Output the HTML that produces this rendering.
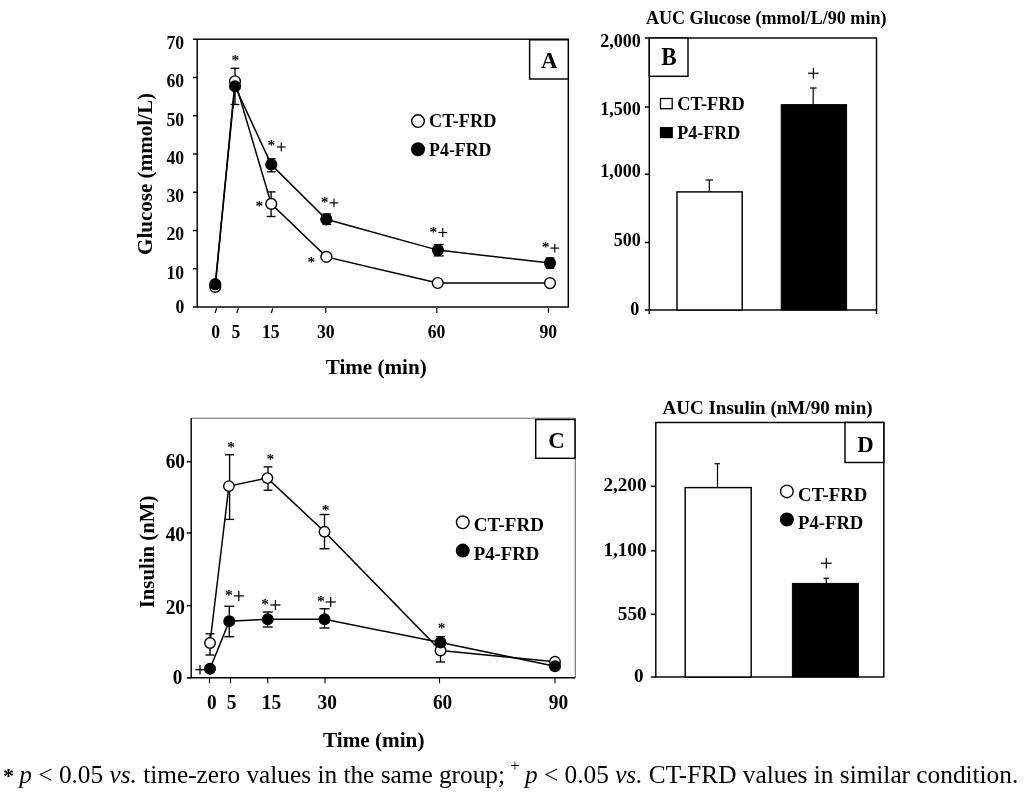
<!DOCTYPE html>
<html><head><meta charset="utf-8"><title>Figure</title>
<style>
html,body{margin:0;padding:0;background:#fff;}
body{width:1024px;height:795px;overflow:hidden;position:relative;font-family:"Liberation Serif", serif;}
svg{position:absolute;left:0;top:0;will-change:transform;}
svg text{font-family:"Liberation Serif", serif;fill:#000;}
#cap{will-change:transform;position:absolute;left:3px;top:756.8px;width:1021px;white-space:nowrap;font-family:"Liberation Serif", serif;font-size:25.3px;line-height:34px;color:#000;}
#cap b{font-weight:bold;font-size:22px;margin-right:-1px;}
#cap sup{font-size:16.5px;vertical-align:baseline;position:relative;top:-12px;margin:0 -1px 0 -1px;}
</style></head><body>
<svg width="1024" height="795" viewBox="0 0 1024 795">
<rect x="197.2" y="39.2" width="371.09999999999997" height="267.8" fill="none" stroke="#000" stroke-width="1.45"/>
<line x1="193.0" y1="307.0" x2="197.2" y2="307.0" stroke="#000" stroke-width="1.45"/>
<text x="184.2" y="312.74" font-size="18" font-weight="bold" text-anchor="end" textLength="8.82" lengthAdjust="spacingAndGlyphs">0</text>
<line x1="193.0" y1="268.75" x2="197.2" y2="268.75" stroke="#000" stroke-width="1.45"/>
<text x="184.2" y="278.69" font-size="18" font-weight="bold" text-anchor="end" textLength="17.64" lengthAdjust="spacingAndGlyphs">10</text>
<line x1="193.0" y1="230.5" x2="197.2" y2="230.5" stroke="#000" stroke-width="1.45"/>
<text x="184.2" y="240.44" font-size="18" font-weight="bold" text-anchor="end" textLength="17.64" lengthAdjust="spacingAndGlyphs">20</text>
<line x1="193.0" y1="192.25" x2="197.2" y2="192.25" stroke="#000" stroke-width="1.45"/>
<text x="184.2" y="202.19" font-size="18" font-weight="bold" text-anchor="end" textLength="17.64" lengthAdjust="spacingAndGlyphs">30</text>
<line x1="193.0" y1="154.0" x2="197.2" y2="154.0" stroke="#000" stroke-width="1.45"/>
<text x="184.2" y="163.94" font-size="18" font-weight="bold" text-anchor="end" textLength="17.64" lengthAdjust="spacingAndGlyphs">40</text>
<line x1="193.0" y1="115.75" x2="197.2" y2="115.75" stroke="#000" stroke-width="1.45"/>
<text x="184.2" y="125.69" font-size="18" font-weight="bold" text-anchor="end" textLength="17.64" lengthAdjust="spacingAndGlyphs">50</text>
<line x1="193.0" y1="77.5" x2="197.2" y2="77.5" stroke="#000" stroke-width="1.45"/>
<text x="184.2" y="87.44" font-size="18" font-weight="bold" text-anchor="end" textLength="17.64" lengthAdjust="spacingAndGlyphs">60</text>
<line x1="193.0" y1="39.25" x2="197.2" y2="39.25" stroke="#000" stroke-width="1.45"/>
<text x="184.2" y="48.99" font-size="18" font-weight="bold" text-anchor="end" textLength="17.64" lengthAdjust="spacingAndGlyphs">70</text>
<line x1="216.65" y1="308.2" x2="215.05" y2="313.0" stroke="#000" stroke-width="1.2"/>
<line x1="238.4" y1="308.2" x2="236.8" y2="313.0" stroke="#000" stroke-width="1.2"/>
<line x1="272.9" y1="308.2" x2="271.3" y2="313.0" stroke="#000" stroke-width="1.2"/>
<line x1="325.75" y1="308.0" x2="325.75" y2="313.0" stroke="#000" stroke-width="1.2"/>
<line x1="436.75" y1="308.0" x2="436.75" y2="313.0" stroke="#000" stroke-width="1.2"/>
<line x1="548.5" y1="308.0" x2="548.5" y2="313.0" stroke="#000" stroke-width="1.2"/>
<text x="215.75" y="337.94" font-size="18" font-weight="bold" text-anchor="middle" textLength="8.82" lengthAdjust="spacingAndGlyphs">0</text>
<text x="236" y="337.94" font-size="18" font-weight="bold" text-anchor="middle" textLength="8.82" lengthAdjust="spacingAndGlyphs">5</text>
<text x="270.75" y="337.94" font-size="18" font-weight="bold" text-anchor="middle" textLength="17.64" lengthAdjust="spacingAndGlyphs">15</text>
<text x="325.75" y="337.94" font-size="18" font-weight="bold" text-anchor="middle" textLength="17.64" lengthAdjust="spacingAndGlyphs">30</text>
<text x="436.5" y="337.94" font-size="18" font-weight="bold" text-anchor="middle" textLength="17.64" lengthAdjust="spacingAndGlyphs">60</text>
<text x="548.25" y="337.94" font-size="18" font-weight="bold" text-anchor="middle" textLength="17.64" lengthAdjust="spacingAndGlyphs">90</text>
<text x="376.2" y="373.83" font-size="20.7" font-weight="bold" text-anchor="middle" textLength="101" lengthAdjust="spacingAndGlyphs">Time (min)</text>
<text transform="translate(151.9,174) rotate(-90)" font-size="21" font-weight="bold" text-anchor="middle" textLength="162" lengthAdjust="spacingAndGlyphs">Glucose (mmol/L)</text>
<rect x="529.6" y="39.8" width="38.69999999999993" height="39.2" fill="#fff" stroke="#000" stroke-width="1.45"/>
<text x="549.25" y="68.42" font-size="24" font-weight="bold" text-anchor="middle" textLength="16.47" lengthAdjust="spacingAndGlyphs">A</text>
<circle cx="418" cy="121.1" r="6.3" fill="#fff" stroke="#000" stroke-width="1.4"/>
<circle cx="418" cy="149.3" r="6.3" fill="#000" stroke="#000" stroke-width="1.4"/>
<text x="429.1" y="127.27" font-size="18.7" font-weight="bold" text-anchor="start" textLength="67.3" lengthAdjust="spacingAndGlyphs">CT-FRD</text>
<text x="429.1" y="156.27" font-size="18.7" font-weight="bold" text-anchor="start" textLength="62.4" lengthAdjust="spacingAndGlyphs">P4-FRD</text>
<polyline points="215.25,286.9 235,81.25 271.25,203.9 326.4,256.9 437.75,283.0 550,283.1" fill="none" stroke="#000" stroke-width="1.5"/>
<polyline points="215.25,284.2 235,86.25 271.25,164.5 326.3,219.3 437.9,250.1 550,263.1" fill="none" stroke="#000" stroke-width="1.5"/>
<line x1="235" y1="68.25" x2="235" y2="104.5" stroke="#000" stroke-width="1.35"/>
<line x1="230.6" y1="68.25" x2="239.4" y2="68.25" stroke="#000" stroke-width="1.35"/>
<line x1="230.6" y1="104.5" x2="239.4" y2="104.5" stroke="#000" stroke-width="1.35"/>
<line x1="271.1" y1="191.9" x2="271.1" y2="216.5" stroke="#000" stroke-width="1.35"/>
<line x1="266.70000000000005" y1="191.9" x2="275.5" y2="191.9" stroke="#000" stroke-width="1.35"/>
<line x1="266.70000000000005" y1="216.5" x2="275.5" y2="216.5" stroke="#000" stroke-width="1.35"/>
<line x1="271.25" y1="158.75" x2="271.25" y2="171.75" stroke="#000" stroke-width="1.35"/>
<line x1="266.85" y1="158.75" x2="275.65" y2="158.75" stroke="#000" stroke-width="1.35"/>
<line x1="266.85" y1="171.75" x2="275.65" y2="171.75" stroke="#000" stroke-width="1.35"/>
<line x1="326.8" y1="214" x2="326.8" y2="224.4" stroke="#000" stroke-width="1.35"/>
<line x1="322.40000000000003" y1="214" x2="331.2" y2="214" stroke="#000" stroke-width="1.35"/>
<line x1="322.40000000000003" y1="224.4" x2="331.2" y2="224.4" stroke="#000" stroke-width="1.35"/>
<line x1="438.6" y1="244.6" x2="438.6" y2="255.9" stroke="#000" stroke-width="1.35"/>
<line x1="433.6" y1="244.6" x2="443.6" y2="244.6" stroke="#000" stroke-width="1.35"/>
<line x1="433.6" y1="255.9" x2="443.6" y2="255.9" stroke="#000" stroke-width="1.35"/>
<line x1="550" y1="258" x2="550" y2="268.25" stroke="#000" stroke-width="1.35"/>
<line x1="545.6" y1="258" x2="554.4" y2="258" stroke="#000" stroke-width="1.35"/>
<line x1="545.6" y1="268.25" x2="554.4" y2="268.25" stroke="#000" stroke-width="1.35"/>
<circle cx="215.25" cy="286.9" r="5.4" fill="#fff" stroke="#000" stroke-width="1.4"/>
<circle cx="235" cy="81.25" r="5.4" fill="#fff" stroke="#000" stroke-width="1.4"/>
<circle cx="271.25" cy="203.9" r="5.4" fill="#fff" stroke="#000" stroke-width="1.4"/>
<circle cx="326.4" cy="256.9" r="5.4" fill="#fff" stroke="#000" stroke-width="1.4"/>
<circle cx="437.75" cy="283.0" r="5.4" fill="#fff" stroke="#000" stroke-width="1.4"/>
<circle cx="550" cy="283.1" r="5.4" fill="#fff" stroke="#000" stroke-width="1.4"/>
<circle cx="215.25" cy="284.2" r="5.4" fill="#000" stroke="#000" stroke-width="1.4"/>
<circle cx="235" cy="86.25" r="5.4" fill="#000" stroke="#000" stroke-width="1.4"/>
<circle cx="271.25" cy="164.5" r="5.4" fill="#000" stroke="#000" stroke-width="1.4"/>
<circle cx="326.3" cy="219.3" r="5.4" fill="#000" stroke="#000" stroke-width="1.4"/>
<circle cx="437.9" cy="250.1" r="5.4" fill="#000" stroke="#000" stroke-width="1.4"/>
<circle cx="550" cy="263.1" r="5.4" fill="#000" stroke="#000" stroke-width="1.4"/>
<text x="235.4" y="64.81" font-size="15.5" font-weight="bold" text-anchor="middle">*</text>
<text x="271.25" y="150.26" font-size="15.5" font-weight="bold" text-anchor="middle">*</text>
<line x1="276.85" y1="147" x2="285.65" y2="147" stroke="#000" stroke-width="1.15"/>
<line x1="281.25" y1="142.6" x2="281.25" y2="151.4" stroke="#000" stroke-width="1.15"/>
<text x="324.6" y="207.11" font-size="15.5" font-weight="bold" text-anchor="middle">*</text>
<line x1="329.6" y1="202.9" x2="338.4" y2="202.9" stroke="#000" stroke-width="1.15"/>
<line x1="334" y1="198.5" x2="334" y2="207.3" stroke="#000" stroke-width="1.15"/>
<text x="433.3" y="236.91" font-size="15.5" font-weight="bold" text-anchor="middle">*</text>
<line x1="438.35" y1="232.5" x2="447.15" y2="232.5" stroke="#000" stroke-width="1.15"/>
<line x1="442.75" y1="228.1" x2="442.75" y2="236.9" stroke="#000" stroke-width="1.15"/>
<text x="545.6" y="251.71" font-size="15.5" font-weight="bold" text-anchor="middle">*</text>
<line x1="550.4" y1="248.1" x2="559.1999999999999" y2="248.1" stroke="#000" stroke-width="1.15"/>
<line x1="554.8" y1="243.7" x2="554.8" y2="252.5" stroke="#000" stroke-width="1.15"/>
<text x="259.4" y="211.26" font-size="15.5" font-weight="bold" text-anchor="middle">*</text>
<text x="311.25" y="266.51" font-size="15.5" font-weight="bold" text-anchor="middle">*</text>
<rect x="649.3" y="38.0" width="227.20000000000005" height="272.0" fill="none" stroke="#000" stroke-width="1.45"/>
<line x1="649.3" y1="310.0" x2="649.3" y2="314.0" stroke="#000" stroke-width="1.45"/>
<line x1="876.5" y1="310.0" x2="876.5" y2="314.0" stroke="#000" stroke-width="1.45"/>
<text x="766.2" y="24.24" font-size="18.3" font-weight="bold" text-anchor="middle" textLength="240.6" lengthAdjust="spacingAndGlyphs">AUC Glucose (mmol/L/90 min)</text>
<line x1="644.8" y1="38" x2="649.3" y2="38" stroke="#000" stroke-width="1.45"/>
<text x="640.9" y="47.02" font-size="19" font-weight="bold" text-anchor="end" textLength="40.61" lengthAdjust="spacingAndGlyphs">2,000</text>
<line x1="644.8" y1="107" x2="649.3" y2="107" stroke="#000" stroke-width="1.45"/>
<text x="640.9" y="114.52" font-size="19" font-weight="bold" text-anchor="end" textLength="40.61" lengthAdjust="spacingAndGlyphs">1,500</text>
<line x1="644.8" y1="174.25" x2="649.3" y2="174.25" stroke="#000" stroke-width="1.45"/>
<text x="640.9" y="177.02" font-size="19" font-weight="bold" text-anchor="end" textLength="40.61" lengthAdjust="spacingAndGlyphs">1,000</text>
<line x1="644.8" y1="242.5" x2="649.3" y2="242.5" stroke="#000" stroke-width="1.45"/>
<text x="640.9" y="245.77" font-size="19" font-weight="bold" text-anchor="end" textLength="27.07" lengthAdjust="spacingAndGlyphs">500</text>
<line x1="644.8" y1="310" x2="649.3" y2="310" stroke="#000" stroke-width="1.45"/>
<text x="639.2" y="315.02" font-size="19" font-weight="bold" text-anchor="end" textLength="9.03" lengthAdjust="spacingAndGlyphs">0</text>
<rect x="649.3" y="38" width="38.700000000000045" height="38.3" fill="#fff" stroke="#000" stroke-width="1.45"/>
<text x="669" y="65.42" font-size="24.3" font-weight="bold" text-anchor="middle" textLength="15.4" lengthAdjust="spacingAndGlyphs">B</text>
<rect x="660.5" y="98.5" width="11.700000000000045" height="10.200000000000003" fill="#fff" stroke="#000" stroke-width="1.3"/>
<rect x="660.5" y="127.7" width="11.700000000000045" height="9.799999999999997" fill="#000" stroke="#000" stroke-width="1.3"/>
<text x="677.3" y="109.92" font-size="18.7" font-weight="bold" text-anchor="start" textLength="67.4" lengthAdjust="spacingAndGlyphs">CT-FRD</text>
<text x="677.3" y="139.17" font-size="18.7" font-weight="bold" text-anchor="start" textLength="63" lengthAdjust="spacingAndGlyphs">P4-FRD</text>
<rect x="677" y="191.9" width="65.20000000000005" height="118.1" fill="#fff" stroke="#000" stroke-width="1.45"/>
<rect x="781.2" y="104.6" width="65.39999999999998" height="205.4" fill="#000" stroke="#000" stroke-width="1.0"/>
<line x1="709.3" y1="180" x2="709.3" y2="192" stroke="#000" stroke-width="1.2"/>
<line x1="705.5" y1="180" x2="713" y2="180" stroke="#000" stroke-width="1.2"/>
<line x1="813.2" y1="88" x2="813.2" y2="105" stroke="#000" stroke-width="1.2"/>
<line x1="810" y1="88" x2="816.7" y2="88" stroke="#000" stroke-width="1.2"/>
<line x1="808.0" y1="73.25" x2="818.8" y2="73.25" stroke="#000" stroke-width="1.2"/>
<line x1="813.4" y1="67.85" x2="813.4" y2="78.65" stroke="#000" stroke-width="1.2"/>
<line x1="191.2" y1="418.3" x2="575.3" y2="418.3" stroke="#6a6a6a" stroke-width="1.1"/>
<line x1="575.3" y1="418.3" x2="575.3" y2="677.7" stroke="#6a6a6a" stroke-width="1.1"/>
<line x1="191.2" y1="418.3" x2="191.2" y2="677.7" stroke="#000" stroke-width="1.45"/>
<line x1="187.2" y1="677.7" x2="575.3" y2="677.7" stroke="#000" stroke-width="1.45"/>
<line x1="186.7" y1="677.7" x2="191.2" y2="677.7" stroke="#000" stroke-width="1.45"/>
<text x="182.5" y="684.20" font-size="20.3" font-weight="bold" text-anchor="end" textLength="9.64" lengthAdjust="spacingAndGlyphs">0</text>
<line x1="186.7" y1="605.7" x2="191.2" y2="605.7" stroke="#000" stroke-width="1.45"/>
<text x="185.0" y="613.60" font-size="20.3" font-weight="bold" text-anchor="end" textLength="19.29" lengthAdjust="spacingAndGlyphs">20</text>
<line x1="186.7" y1="533" x2="191.2" y2="533" stroke="#000" stroke-width="1.45"/>
<text x="185.0" y="540.70" font-size="20.3" font-weight="bold" text-anchor="end" textLength="19.29" lengthAdjust="spacingAndGlyphs">40</text>
<line x1="186.7" y1="461.75" x2="191.2" y2="461.75" stroke="#000" stroke-width="1.45"/>
<text x="185.0" y="468.30" font-size="20.3" font-weight="bold" text-anchor="end" textLength="19.29" lengthAdjust="spacingAndGlyphs">60</text>
<line x1="209.5" y1="677.7" x2="209.5" y2="683.2" stroke="#000" stroke-width="1.1"/>
<line x1="230.5" y1="677.7" x2="230.5" y2="683.2" stroke="#000" stroke-width="1.1"/>
<line x1="267.75" y1="677.7" x2="267.75" y2="683.2" stroke="#000" stroke-width="1.1"/>
<line x1="325" y1="677.7" x2="325" y2="683.2" stroke="#000" stroke-width="1.1"/>
<line x1="439.5" y1="677.7" x2="439.5" y2="683.2" stroke="#000" stroke-width="1.1"/>
<line x1="555" y1="677.7" x2="555" y2="683.2" stroke="#000" stroke-width="1.1"/>
<text x="211.9" y="709.40" font-size="20.6" font-weight="bold" text-anchor="middle" textLength="9.68" lengthAdjust="spacingAndGlyphs">0</text>
<text x="231.6" y="709.40" font-size="20.6" font-weight="bold" text-anchor="middle" textLength="9.68" lengthAdjust="spacingAndGlyphs">5</text>
<text x="271.5" y="709.40" font-size="20.6" font-weight="bold" text-anchor="middle" textLength="19.36" lengthAdjust="spacingAndGlyphs">15</text>
<text x="327.2" y="709.40" font-size="20.6" font-weight="bold" text-anchor="middle" textLength="19.36" lengthAdjust="spacingAndGlyphs">30</text>
<text x="442.6" y="709.40" font-size="20.6" font-weight="bold" text-anchor="middle" textLength="19.36" lengthAdjust="spacingAndGlyphs">60</text>
<text x="558.4" y="709.40" font-size="20.6" font-weight="bold" text-anchor="middle" textLength="19.36" lengthAdjust="spacingAndGlyphs">90</text>
<text x="373.75" y="747.33" font-size="20.7" font-weight="bold" text-anchor="middle" textLength="101.4" lengthAdjust="spacingAndGlyphs">Time (min)</text>
<text transform="translate(153.9,552) rotate(-90)" font-size="20.3" font-weight="bold" text-anchor="middle" textLength="112.7" lengthAdjust="spacingAndGlyphs">Insulin (nM)</text>
<rect x="535.7" y="419.5" width="39.299999999999955" height="38.80000000000001" fill="#fff" stroke="#000" stroke-width="1.45"/>
<text x="556.5" y="447.72" font-size="24" font-weight="bold" text-anchor="middle" textLength="16.47" lengthAdjust="spacingAndGlyphs">C</text>
<circle cx="462.75" cy="522.3" r="6.3" fill="#fff" stroke="#000" stroke-width="1.4"/>
<circle cx="462.75" cy="550.6" r="6.3" fill="#000" stroke="#000" stroke-width="1.4"/>
<text x="473.8" y="530.97" font-size="19.6" font-weight="bold" text-anchor="start" textLength="70.2" lengthAdjust="spacingAndGlyphs">CT-FRD</text>
<text x="473.8" y="559.77" font-size="19.6" font-weight="bold" text-anchor="start" textLength="65.6" lengthAdjust="spacingAndGlyphs">P4-FRD</text>
<polyline points="210,643 228.9,486.1 267.4,478.1 324.5,531.75 440.5,650.5 555,661.75" fill="none" stroke="#000" stroke-width="1.5"/>
<polyline points="210,668.75 229.25,621.25 267.75,619.25 324.5,619.25 440.5,642.5 555,666.25" fill="none" stroke="#000" stroke-width="1.5"/>
<line x1="210" y1="633.75" x2="210" y2="655" stroke="#000" stroke-width="1.35"/>
<line x1="205.5" y1="633.75" x2="214.5" y2="633.75" stroke="#000" stroke-width="1.35"/>
<line x1="205.5" y1="655" x2="214.5" y2="655" stroke="#000" stroke-width="1.35"/>
<line x1="229.6" y1="454.75" x2="229.6" y2="519.4" stroke="#000" stroke-width="1.35"/>
<line x1="225.1" y1="454.75" x2="234.1" y2="454.75" stroke="#000" stroke-width="1.35"/>
<line x1="225.1" y1="519.4" x2="234.1" y2="519.4" stroke="#000" stroke-width="1.35"/>
<line x1="268" y1="466.9" x2="268" y2="490.25" stroke="#000" stroke-width="1.35"/>
<line x1="263.6" y1="466.9" x2="272.4" y2="466.9" stroke="#000" stroke-width="1.35"/>
<line x1="263.6" y1="490.25" x2="272.4" y2="490.25" stroke="#000" stroke-width="1.35"/>
<line x1="324.5" y1="514.5" x2="324.5" y2="548.75" stroke="#000" stroke-width="1.35"/>
<line x1="319.5" y1="514.5" x2="329.5" y2="514.5" stroke="#000" stroke-width="1.35"/>
<line x1="319.5" y1="548.75" x2="329.5" y2="548.75" stroke="#000" stroke-width="1.35"/>
<line x1="229.25" y1="606.25" x2="229.25" y2="636.75" stroke="#000" stroke-width="1.35"/>
<line x1="224.25" y1="606.25" x2="234.25" y2="606.25" stroke="#000" stroke-width="1.35"/>
<line x1="224.25" y1="636.75" x2="234.25" y2="636.75" stroke="#000" stroke-width="1.35"/>
<line x1="267.75" y1="612" x2="267.75" y2="627" stroke="#000" stroke-width="1.35"/>
<line x1="262.75" y1="612" x2="272.75" y2="612" stroke="#000" stroke-width="1.35"/>
<line x1="262.75" y1="627" x2="272.75" y2="627" stroke="#000" stroke-width="1.35"/>
<line x1="324.5" y1="608.75" x2="324.5" y2="628" stroke="#000" stroke-width="1.35"/>
<line x1="319.5" y1="608.75" x2="329.5" y2="608.75" stroke="#000" stroke-width="1.35"/>
<line x1="319.5" y1="628" x2="329.5" y2="628" stroke="#000" stroke-width="1.35"/>
<line x1="440.5" y1="636.75" x2="440.5" y2="662" stroke="#000" stroke-width="1.35"/>
<line x1="436.0" y1="636.75" x2="445.0" y2="636.75" stroke="#000" stroke-width="1.35"/>
<line x1="436.0" y1="662" x2="445.0" y2="662" stroke="#000" stroke-width="1.35"/>
<circle cx="210" cy="643" r="5.25" fill="#fff" stroke="#000" stroke-width="1.4"/>
<circle cx="228.9" cy="486.1" r="5.25" fill="#fff" stroke="#000" stroke-width="1.4"/>
<circle cx="267.4" cy="478.1" r="5.25" fill="#fff" stroke="#000" stroke-width="1.4"/>
<circle cx="324.5" cy="531.75" r="5.25" fill="#fff" stroke="#000" stroke-width="1.4"/>
<circle cx="440.5" cy="650.5" r="5.25" fill="#fff" stroke="#000" stroke-width="1.4"/>
<circle cx="555" cy="661.75" r="5.25" fill="#fff" stroke="#000" stroke-width="1.4"/>
<circle cx="210" cy="668.75" r="5.3" fill="#000" stroke="#000" stroke-width="1.4"/>
<circle cx="229.25" cy="621.25" r="5.3" fill="#000" stroke="#000" stroke-width="1.4"/>
<circle cx="267.75" cy="619.25" r="5.3" fill="#000" stroke="#000" stroke-width="1.4"/>
<circle cx="324.5" cy="619.25" r="5.3" fill="#000" stroke="#000" stroke-width="1.4"/>
<circle cx="440.5" cy="642.5" r="5.3" fill="#000" stroke="#000" stroke-width="1.4"/>
<circle cx="555" cy="666.25" r="5.3" fill="#000" stroke="#000" stroke-width="1.4"/>
<text x="231" y="451.71" font-size="15.5" font-weight="bold" text-anchor="middle">*</text>
<text x="270.4" y="463.81" font-size="15.5" font-weight="bold" text-anchor="middle">*</text>
<text x="325.5" y="515.26" font-size="15.5" font-weight="bold" text-anchor="middle">*</text>
<text x="441.5" y="632.76" font-size="15.5" font-weight="bold" text-anchor="middle">*</text>
<text x="228.8" y="600.01" font-size="15.5" font-weight="bold" text-anchor="middle">*</text>
<line x1="233.70000000000002" y1="595.9" x2="243.9" y2="595.9" stroke="#000" stroke-width="1.25"/>
<line x1="238.8" y1="590.8" x2="238.8" y2="601.0" stroke="#000" stroke-width="1.25"/>
<text x="265" y="609.01" font-size="15.5" font-weight="bold" text-anchor="middle">*</text>
<line x1="270.29999999999995" y1="605" x2="280.5" y2="605" stroke="#000" stroke-width="1.25"/>
<line x1="275.4" y1="599.9" x2="275.4" y2="610.1" stroke="#000" stroke-width="1.25"/>
<text x="320.8" y="605.81" font-size="15.5" font-weight="bold" text-anchor="middle">*</text>
<line x1="325.59999999999997" y1="602" x2="335.8" y2="602" stroke="#000" stroke-width="1.25"/>
<line x1="330.7" y1="596.9" x2="330.7" y2="607.1" stroke="#000" stroke-width="1.25"/>
<line x1="195.3" y1="669.7" x2="204.7" y2="669.7" stroke="#000" stroke-width="1.3"/>
<line x1="200" y1="665.0" x2="200" y2="674.4000000000001" stroke="#000" stroke-width="1.3"/>
<rect x="655.8" y="422.5" width="228.0" height="254.5" fill="none" stroke="#000" stroke-width="1.45"/>
<text x="767.5" y="414.04" font-size="18.3" font-weight="bold" text-anchor="middle" textLength="210.2" lengthAdjust="spacingAndGlyphs">AUC Insulin (nM/90 min)</text>
<line x1="650.8" y1="486.25" x2="655.8" y2="486.25" stroke="#000" stroke-width="1.45"/>
<text x="646.6" y="490.80" font-size="19.4" font-weight="bold" text-anchor="end" textLength="43.21" lengthAdjust="spacingAndGlyphs">2,200</text>
<line x1="650.8" y1="550.8" x2="655.8" y2="550.8" stroke="#000" stroke-width="1.45"/>
<text x="646.6" y="555.60" font-size="19.4" font-weight="bold" text-anchor="end" textLength="43.21" lengthAdjust="spacingAndGlyphs">1,100</text>
<line x1="650.8" y1="614.25" x2="655.8" y2="614.25" stroke="#000" stroke-width="1.45"/>
<text x="646.6" y="619.70" font-size="19.4" font-weight="bold" text-anchor="end" textLength="28.81" lengthAdjust="spacingAndGlyphs">550</text>
<line x1="650.8" y1="677" x2="655.8" y2="677" stroke="#000" stroke-width="1.45"/>
<text x="643.6" y="682.40" font-size="19.4" font-weight="bold" text-anchor="end" textLength="9.6" lengthAdjust="spacingAndGlyphs">0</text>
<rect x="845" y="422.5" width="38.799999999999955" height="40.0" fill="#fff" stroke="#000" stroke-width="1.45"/>
<text x="865.5" y="452.12" font-size="24" font-weight="bold" text-anchor="middle" textLength="16.47" lengthAdjust="spacingAndGlyphs">D</text>
<circle cx="786.9" cy="491.4" r="6.3" fill="#fff" stroke="#000" stroke-width="1.4"/>
<circle cx="786.9" cy="519.5" r="6.3" fill="#000" stroke="#000" stroke-width="1.4"/>
<text x="798.1" y="500.53" font-size="19.8" font-weight="bold" text-anchor="start" textLength="69.2" lengthAdjust="spacingAndGlyphs">CT-FRD</text>
<text x="798.1" y="529.23" font-size="19.8" font-weight="bold" text-anchor="start" textLength="65.2" lengthAdjust="spacingAndGlyphs">P4-FRD</text>
<rect x="685.2" y="487.6" width="66.0" height="189.39999999999998" fill="#fff" stroke="#000" stroke-width="1.45"/>
<rect x="792.4" y="583.4" width="66.0" height="93.60000000000002" fill="#000" stroke="#000" stroke-width="1.0"/>
<line x1="717.5" y1="463.75" x2="717.5" y2="488" stroke="#000" stroke-width="1.2"/>
<line x1="714.5" y1="463.75" x2="720" y2="463.75" stroke="#000" stroke-width="1.2"/>
<line x1="826.25" y1="578.2" x2="826.25" y2="584" stroke="#000" stroke-width="1.2"/>
<line x1="823.5" y1="578.2" x2="829" y2="578.2" stroke="#000" stroke-width="1.2"/>
<line x1="820.9" y1="563.2" x2="831.6999999999999" y2="563.2" stroke="#000" stroke-width="1.2"/>
<line x1="826.3" y1="557.8000000000001" x2="826.3" y2="568.6" stroke="#000" stroke-width="1.2"/>
</svg>
<div id="cap"><b>*</b> <i>p</i> &lt; 0.05 <i>vs.</i> time-zero values in the same group; <sup>+</sup> <i>p</i> &lt; 0.05 <i>vs.</i> CT-FRD values in similar condition.</div>
</body></html>
